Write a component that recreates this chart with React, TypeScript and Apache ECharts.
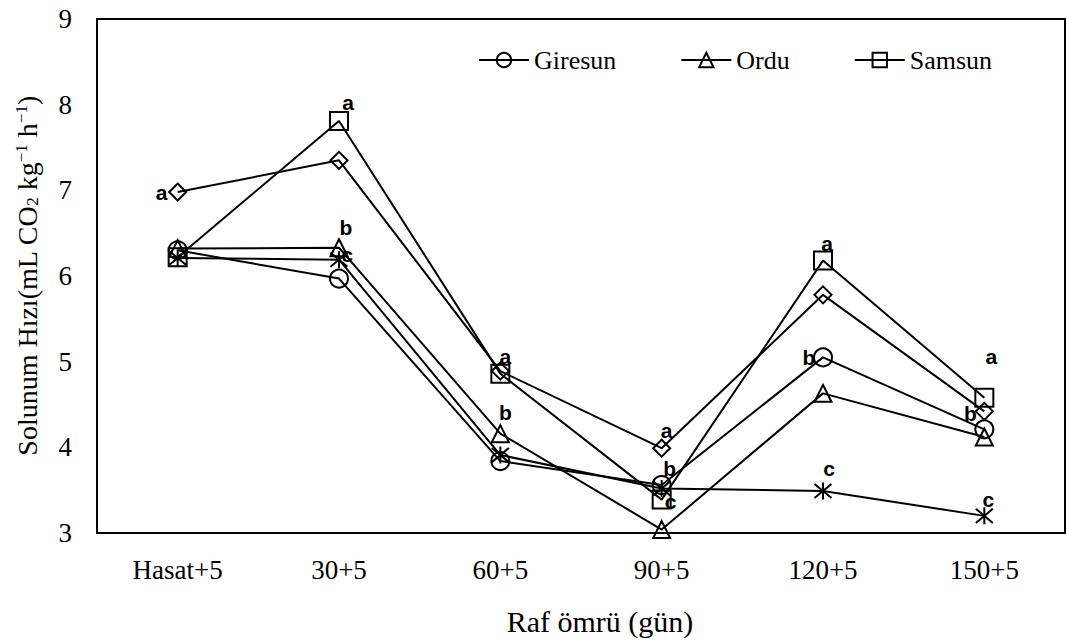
import React, { useEffect, useRef } from "react";
import * as echarts from "echarts";

const categories = ["Hasat+5", "30+5", "60+5", "90+5", "120+5", "150+5"];
const giresun = [6.30, 5.97, 3.84, 3.56, 5.05, 4.21];
const ordu = [6.32, 6.33, 4.16, 3.04, 4.63, 4.12];
const samsun = [6.22, 7.81, 4.86, 3.39, 6.18, 4.58];
const diamondSeries = [6.98, 7.35, 4.89, 3.99, 5.78, 4.42];
const starSeries = [6.21, 6.19, 3.91, 3.52, 3.49, 3.20];

const giresunLetters = ["", "", "", "b", "b", ""];
const orduLetters = ["", "b", "b", "", "", ""];
const samsunLetters = ["", "a", "a", "c", "a", "a"];
const diamondLetters = ["a", "", "", "a", "", "b"];
const starLetters = ["", "c", "", "", "c", "c"];

const yTicks = { min: 3, max: 9, interval: 1 };

const SERIF = "Liberation Serif";
const SANS = "Liberation Sans";

const DIAMOND = "path://M0,-1L1,0L0,1L-1,0Z";
const STAR = "path://M-1,-1L1,1M-1,1L1,-1M0,-1.2L0,1.2";

// label offsets (pixel styling, relative to the marker centre)
const offsets: Record<string, Record<number, [number, number]>> = {
  Giresun: { 3: [8, -17], 4: [-14, 0] },
  Ordu: { 1: [7, -20], 2: [5, -21] },
  Samsun: { 1: [9, -18], 2: [5, -17], 3: [9, 2], 4: [4, -17], 5: [7, -41] },
  D: { 0: [-16, 0], 3: [5, -18], 5: [-14, 2] },
  S: { 1: [8, -5], 4: [6, -23], 5: [4, -16] },
};

function buildData(name: string, values: number[], letters: string[]) {
  return values.map((v, i) => {
    const letter = letters[i];
    if (!letter) return { value: v };
    const off = (offsets[name] && offsets[name][i]) || [0, -18];
    return {
      value: v,
      label: {
        show: true,
        position: "inside",
        offset: off,
        formatter: letter,
        fontFamily: SANS,
        fontWeight: "bold",
        fontSize: 21,
        color: "#000",
      },
    };
  });
}

function makeSeries(
  name: string,
  key: string,
  values: number[],
  letters: string[],
  symbol: string,
  size: number,
  z: number
) {
  return {
    name,
    type: "line",
    data: buildData(key, values, letters),
    symbol,
    symbolSize: size,
    showAllSymbol: true,
    z,
    lineStyle: { color: "#000", width: 2 },
    itemStyle: { color: "rgba(255,255,255,0)", borderColor: "#000", borderWidth: 2 },
    label: { show: false },
    emphasis: { disabled: true },
  };
}

export default function App() {
  const ref = useRef<HTMLDivElement>(null);

  useEffect(() => {
    if (!ref.current) return;
    const chart = echarts.init(ref.current, null, { renderer: "svg" });
    chart.setOption({
      animation: false,
      backgroundColor: "#fff",
      textStyle: { fontFamily: SERIF, color: "#000" },
      grid: {
        left: 97,
        right: 2,
        top: 19,
        bottom: 111,
        show: true,
        borderColor: "#000",
        borderWidth: 2,
        backgroundColor: "transparent",
      },
      legend: {
        data: ["Giresun", "Ordu", "Samsun"],
        left: 473,
        top: 42,
        itemWidth: 50,
        itemHeight: 18,
        itemGap: 64,
        textStyle: { fontFamily: SERIF, fontSize: 26, color: "#000" },
        selectedMode: false,
      },
      xAxis: {
        type: "category",
        data: categories,
        boundaryGap: true,
        axisLine: { show: true, lineStyle: { color: "#000", width: 2 } },
        axisTick: { show: false },
        axisLabel: {
          fontFamily: SERIF,
          fontSize: 27,
          color: "#000",
          margin: 23,
        },
        name: "Raf ömrü (gün)",
        nameLocation: "middle",
        nameGap: 73,
        nameTextStyle: {
          fontFamily: SERIF,
          fontSize: 30,
          color: "#000",
          padding: [0, 0, 0, 38],
        },
      },
      yAxis: {
        type: "value",
        min: yTicks.min,
        max: yTicks.max,
        interval: yTicks.interval,
        splitLine: { show: false },
        axisLine: { show: true, lineStyle: { color: "#000", width: 2 } },
        axisTick: { show: false },
        axisLabel: {
          fontFamily: SERIF,
          fontSize: 27,
          color: "#000",
          margin: 25,
        },
        name: "{t|Solunum Hızı(mL CO}{sub|2}{t| kg}{sup|−1}{t| h}{sup|−1}{t|)}",
        nameLocation: "middle",
        nameRotate: 90,
        nameGap: 56,
        nameTextStyle: {
          fontFamily: SERIF,
          fontSize: 28,
          color: "#000",
          rich: {
            t: {
              fontFamily: SERIF,
              fontSize: 28,
              color: "#000",
            },
            sub: {
              fontFamily: SERIF,
              fontSize: 17,
              color: "#000",
              verticalAlign: "bottom",
              padding: [10, 0, 0, 0],
            },
            sup: {
              fontFamily: SERIF,
              fontSize: 17,
              color: "#000",
              verticalAlign: "top",
              padding: [0, 0, 10, 0],
            },
          },
        },
      },
      series: [
        makeSeries("Giresun", "Giresun", giresun, giresunLetters, "circle", 18, 5),
        makeSeries("Ordu", "Ordu", ordu, orduLetters, "triangle", 17, 5),
        makeSeries("Samsun", "Samsun", samsun, samsunLetters, "rect", 18, 5),
        makeSeries("Diamond", "D", diamondSeries, diamondLetters, DIAMOND, 17, 4),
        makeSeries("Star", "S", starSeries, starLetters, STAR, 17, 4),
      ],
    });
    return () => chart.dispose();
  }, []);

  return (
    <div
      ref={ref}
      style={{ position: "fixed", left: 0, top: 0, width: 1067, height: 644 }}
    />
  );
}
